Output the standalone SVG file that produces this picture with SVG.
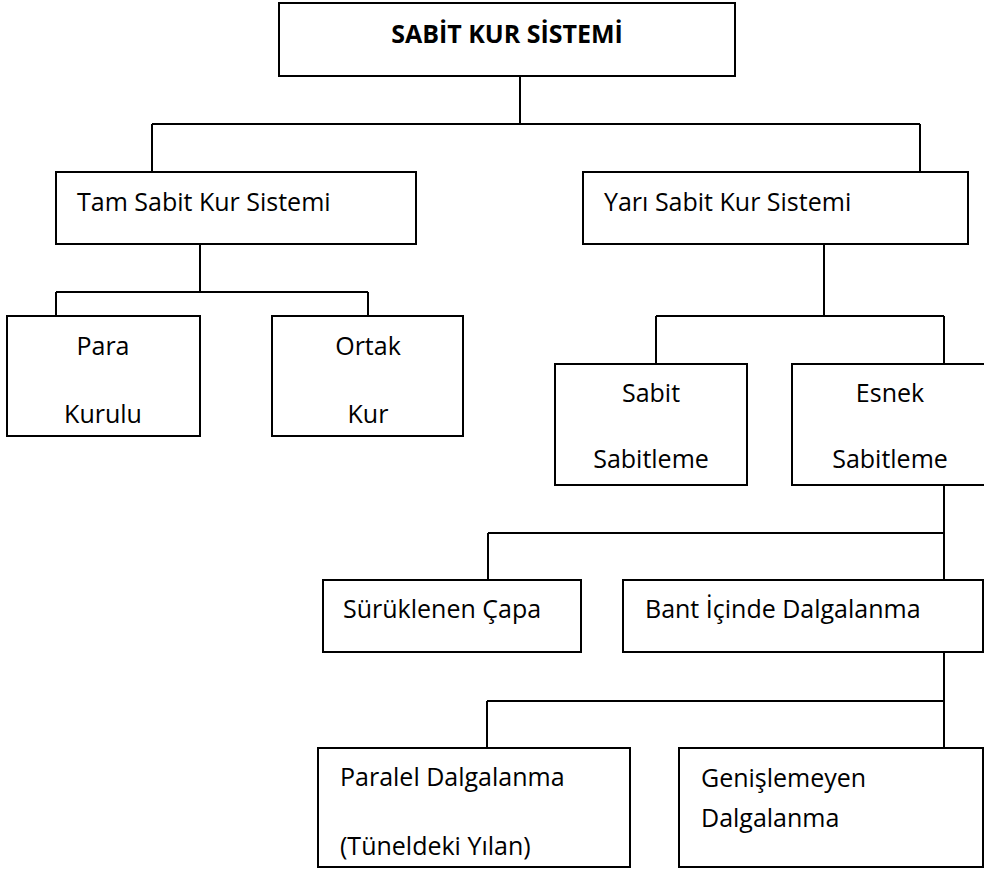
<svg xmlns="http://www.w3.org/2000/svg" width="984" height="872" viewBox="0 0 984 872">
<style>
.box{fill:#fff;stroke:#000;stroke-width:2}
.t{font-family:"Open Sans","Noto Sans","DejaVu Sans",sans-serif;font-size:25px;fill:#000}
.c{text-anchor:middle}
.b{font-weight:bold}
.con{fill:none;stroke:#000;stroke-width:2}
</style>
<rect width="984" height="872" fill="#fff"/>
<g id="connectors">
<path class="con" d="M520 76V124M152 124H920M152 124V172M920 124V172"/>
<path class="con" d="M200 244V292M56 292H368M56 292V316M368 292V316"/>
<path class="con" d="M824 244V316M656 316H944M656 316V364M944 316V364"/>
<path class="con" d="M944 485V580M488 533H944M488 533V580"/>
<path class="con" d="M944 652V748M487 701H944M487 701V748"/>
</g>
<g id="n-sabit-kur-sistemi"><rect class="box" x="279" y="3" width="456" height="73"/><text class="t c b" x="507" y="43">SABİT KUR SİSTEMİ</text></g>
<g id="n-tam"><rect class="box" x="56" y="172" width="360" height="72"/><text class="t" x="77" y="211">Tam Sabit Kur Sistemi</text></g>
<g id="n-yari"><rect class="box" x="583" y="172" width="385" height="72"/><text class="t" x="604" y="211">Yarı Sabit Kur Sistemi</text></g>
<g id="n-para"><rect class="box" x="7" y="316" width="193" height="120"/><text class="t c" x="103" y="355">Para</text><text class="t c" x="103" y="423">Kurulu</text></g>
<g id="n-ortak"><rect class="box" x="272" y="316" width="191" height="120"/><text class="t c" x="368" y="355">Ortak</text><text class="t c" x="368" y="423">Kur</text></g>
<g id="n-sabit"><rect class="box" x="555" y="364" width="192" height="121"/><text class="t c" x="651" y="402">Sabit</text><text class="t c" x="651" y="468">Sabitleme</text></g>
<g id="n-esnek"><rect class="box" x="792" y="364" width="200" height="121"/><text class="t c" x="890" y="402">Esnek</text><text class="t c" x="890" y="468">Sabitleme</text></g>
<g id="n-suruklenen"><rect class="box" x="323" y="580" width="258" height="72"/><text class="t" x="343" y="618">Sürüklenen Çapa</text></g>
<g id="n-bant"><rect class="box" x="623" y="580" width="360" height="72"/><text class="t" x="645" y="618">Bant İçinde Dalgalanma</text></g>
<g id="n-paralel"><rect class="box" x="318" y="748" width="312" height="119"/><text class="t" x="340" y="786">Paralel Dalgalanma</text><text class="t" x="340" y="855">(Tüneldeki Yılan)</text></g>
<g id="n-genis"><rect class="box" x="679" y="748" width="304" height="119"/><text class="t" x="701" y="787">Genişlemeyen</text><text class="t" x="701" y="827">Dalgalanma</text></g>
</svg>
